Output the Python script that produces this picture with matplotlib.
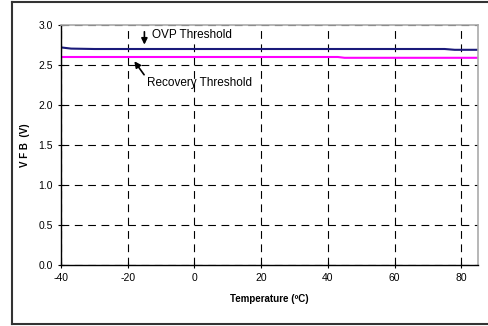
import matplotlib
matplotlib.use("Agg")
import matplotlib.pyplot as plt
from matplotlib.lines import Line2D

plt.rcParams['font.family'] = ['Liberation Sans', 'DejaVu Sans']

# Data
temp = [-40, -37, -30, -20, 0, 20, 40, 43, 45, 60, 75, 78, 80, 85]
ovp = [2.72, 2.705, 2.70, 2.70, 2.70, 2.70, 2.70, 2.70, 2.70, 2.70, 2.70, 2.69, 2.69, 2.69]
recovery = [2.60, 2.60, 2.60, 2.60, 2.60, 2.60, 2.60, 2.60, 2.59, 2.59, 2.59, 2.59, 2.59, 2.59]
x_ticks = [-40, -20, 0, 20, 40, 60, 80]
y_ticks = [0.0, 0.5, 1.0, 1.5, 2.0, 2.5, 3.0]

fig = plt.figure(figsize=(4.89, 3.26), dpi=100)
ax = fig.add_axes([61/489, 1-265/326, (478-61)/489, (265-25)/326])

# outer frame (open on the right, runs off the image)
x0, y0, y1 = 12/489, 2/326, 324/326
frame = dict(transform=fig.transFigure, color='#333333', linewidth=1.5)
fig.lines.append(Line2D([1.05, x0], [y1, y1], **frame))
fig.lines.append(Line2D([x0, x0], [y1, y0], **frame))
fig.lines.append(Line2D([x0, 1.05], [y0, y0], **frame))

ax.plot(temp, ovp, color='#1a1a7a', linewidth=1.5)
ax.plot(temp, recovery, color='#ff00ff', linewidth=1.5)

ax.set_xlim(-40, 85)
ax.set_ylim(0, 3.0)
ax.set_xticks(x_ticks)
ax.set_yticks(y_ticks)
ax.set_xticklabels([str(t) for t in x_ticks], fontsize=7.5)
ax.set_yticklabels(["%.1f" % v for v in y_ticks], fontsize=7.5)
ax.grid(True, color='black', linestyle=(0, (7, 5)), linewidth=0.8)
ax.tick_params(direction='inout', length=5, width=0.8)

for side in ['top', 'right']:
    ax.spines[side].set_color('#aaaaaa')
    ax.spines[side].set_linewidth(1.2)
for side in ['left', 'bottom']:
    ax.spines[side].set_linewidth(1.0)

ax.set_xlabel("Temperature (ºC)", fontsize=7, fontweight='bold', labelpad=8)
ax.set_ylabel("V F B  (V)", fontsize=7, fontweight='bold', labelpad=6)

ax.annotate("", xy=(-15, 2.72), xytext=(-15, 2.95),
            arrowprops=dict(arrowstyle='-|>', color='black', lw=1.2, mutation_scale=9))
ax.text(-12.8, 2.875, "OVP Threshold", fontsize=8.5, va='center', ha='left')
ax.annotate("", xy=(-18.5, 2.575), xytext=(-14.6, 2.35),
            arrowprops=dict(arrowstyle='-|>', color='black', lw=1.2, mutation_scale=9))
ax.text(-14.2, 2.27, "Recovery Threshold", fontsize=8.5, va='center', ha='left')

fig.savefig("out.png", dpi=100)
